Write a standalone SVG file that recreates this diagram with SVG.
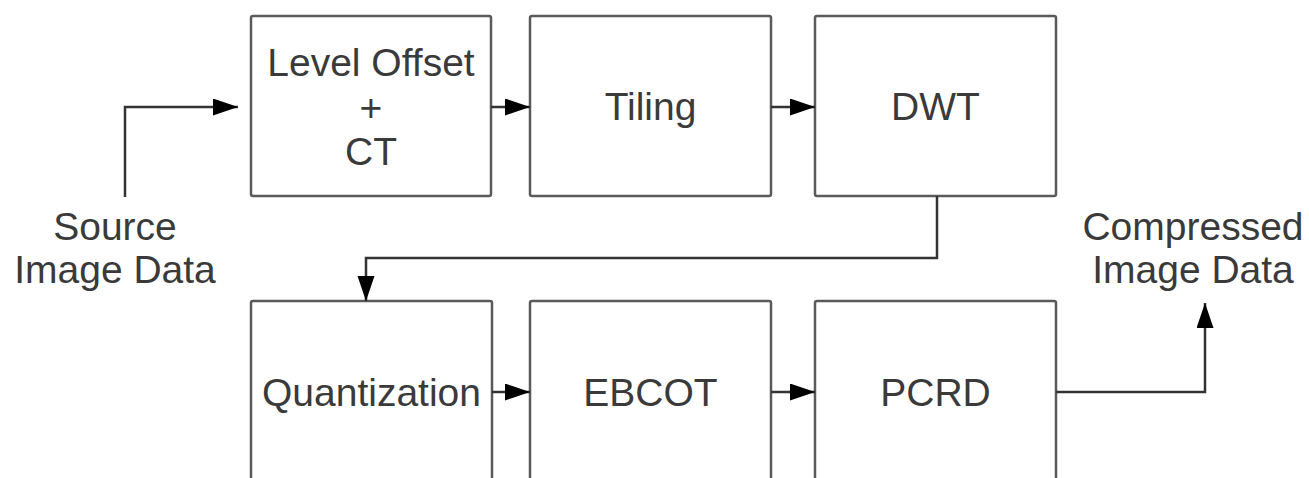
<svg xmlns="http://www.w3.org/2000/svg" width="1309" height="478" viewBox="0 0 1309 478">
  <style>
    .box { fill: #ffffff; stroke: #5a5a5a; stroke-width: 2.5; }
    .lbl { font-family: "Liberation Sans", Arial, sans-serif; font-size: 39px; fill: #3a3a3a; text-anchor: middle; }
    .wire { fill: none; stroke: #333333; stroke-width: 2.5; }
  </style>
  <defs>
    <marker id="arrow" markerUnits="userSpaceOnUse" markerWidth="26" markerHeight="18" refX="25" refY="8.5" orient="auto">
      <path d="M0,0 L25,8.5 L0,17 Z" fill="#000000"/>
    </marker>
  </defs>
  <rect width="1309" height="478" fill="#ffffff"/>

  <g id="levelOffset">
    <rect class="box" x="251" y="16" width="240" height="180" rx="2"/>
    <text class="lbl" x="371" y="76">Level Offset</text>
    <text class="lbl" x="371" y="121">+</text>
    <text class="lbl" x="371" y="165">CT</text>
  </g>
  <g id="tiling">
    <rect class="box" x="530" y="16" width="241" height="180" rx="2"/>
    <text class="lbl" x="650.5" y="120">Tiling</text>
  </g>
  <g id="dwt">
    <rect class="box" x="815" y="16" width="241" height="180" rx="2"/>
    <text class="lbl" x="935.5" y="120">DWT</text>
  </g>
  <g id="quantization">
    <rect class="box" x="251" y="301" width="241" height="200" rx="2"/>
    <text class="lbl" x="371.5" y="406">Quantization</text>
  </g>
  <g id="ebcot">
    <rect class="box" x="530" y="301" width="241" height="200" rx="2"/>
    <text class="lbl" x="650.5" y="406">EBCOT</text>
  </g>
  <g id="pcrd">
    <rect class="box" x="815" y="301" width="241" height="200" rx="2"/>
    <text class="lbl" x="935.5" y="406">PCRD</text>
  </g>
  <g id="source">
    <text class="lbl" x="115" y="240">Source</text>
    <text class="lbl" x="115" y="283">Image Data</text>
  </g>
  <g id="compressed">
    <text class="lbl" x="1193" y="240">Compressed</text>
    <text class="lbl" x="1193" y="283">Image Data</text>
  </g>

  <g id="connectors">
    <path class="wire" d="M125,197 V107 H238" marker-end="url(#arrow)"/>
    <path class="wire" d="M491,107 H530" marker-end="url(#arrow)"/>
    <path class="wire" d="M771,107 H815" marker-end="url(#arrow)"/>
    <path class="wire" d="M937,196 V258 H366 V301" marker-end="url(#arrow)"/>
    <path class="wire" d="M492,392 H530" marker-end="url(#arrow)"/>
    <path class="wire" d="M771,392 H815" marker-end="url(#arrow)"/>
    <path class="wire" d="M1056,392 H1205 V303" marker-end="url(#arrow)"/>
  </g>
</svg>
